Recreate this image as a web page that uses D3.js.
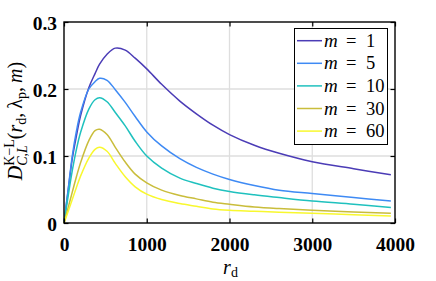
<!DOCTYPE html>
<html>
<head>
<meta charset="utf-8">
<script src="https://cdn.jsdelivr.net/npm/d3@7"></script>
<style>
  body { margin: 0; background: #fff; }
  svg { display: block; }
</style>
</head>
<body>
<svg id="chart" width="436" height="281"></svg>
<script>
// r_d sample positions, one array per m
const rd  = [0, 50, 100, 150, 200, 300, 375, 430, 520, 620, 740, 860, 1000, 1180, 1400, 1600, 1800, 2000, 2300, 2600, 3000, 3500, 3950];

const m1  = [0, 0.048, 0.096, 0.130, 0.160, 0.202, 0.223, 0.237, 0.252, 0.261, 0.258, 0.246, 0.230, 0.207, 0.182, 0.163, 0.146, 0.132, 0.116, 0.104, 0.0915, 0.081, 0.072];
const m5  = [0, 0.050, 0.100, 0.137, 0.165, 0.200, 0.211, 0.216, 0.213, 0.199, 0.180, 0.159, 0.136, 0.115, 0.096, 0.083, 0.073, 0.065, 0.056, 0.049, 0.044, 0.038, 0.033];
const m10 = [0, 0.040, 0.078, 0.110, 0.135, 0.170, 0.184, 0.187, 0.181, 0.165, 0.145, 0.122, 0.100, 0.082, 0.067, 0.059, 0.052, 0.047, 0.042, 0.038, 0.033, 0.028, 0.023];
const m30 = [0, 0.023, 0.046, 0.069, 0.090, 0.123, 0.138, 0.140, 0.132, 0.113, 0.091, 0.073, 0.060, 0.049, 0.041, 0.036, 0.031, 0.028, 0.024, 0.0215, 0.019, 0.0165, 0.0145];
const m60 = [0, 0.017, 0.035, 0.053, 0.070, 0.097, 0.110, 0.113, 0.107, 0.089, 0.069, 0.054, 0.043, 0.035, 0.029, 0.025, 0.021, 0.019, 0.0175, 0.016, 0.0145, 0.0123, 0.0105];

const seriesNames = ["1", "5", "10", "30", "60"];
const seriesValues = [m1, m5, m10, m30, m60];
const colors = ["#4b3cb6", "#3e8af4", "#1fc1be", "#c9bd3b", "#f8f82e"];

const xTicks = [0, 1000, 2000, 3000, 4000];
const yTicks = [0, 0.1, 0.2, 0.3];

const svg = d3.select("#chart");
const pLeft = 64, pRight = 395, pTop = 22, pBottom = 223;
const serif = "'Liberation Serif', 'Times New Roman', Times, 'DejaVu Serif', serif";

const x = d3.scaleLinear().domain([0, 4000]).range([pLeft, pRight]);
const y = d3.scaleLinear().domain([0, 0.3]).range([pBottom, pTop]);

// grid
svg.append("g").selectAll("line").data([1000, 2000, 3000]).join("line")
  .attr("x1", d => x(d)).attr("x2", d => x(d))
  .attr("y1", pTop).attr("y2", pBottom)
  .attr("stroke", "#dedede").attr("stroke-width", 1.3);
svg.append("g").selectAll("line").data([0.1, 0.2]).join("line")
  .attr("x1", pLeft).attr("x2", pRight)
  .attr("y1", d => y(d)).attr("y2", d => y(d))
  .attr("stroke", "#dedede").attr("stroke-width", 1.3);

// curves
const line = d3.line()
  .x(d => x(d[0]))
  .y(d => y(d[1]))
  .curve(d3.curveCatmullRom.alpha(0.5));

seriesValues.forEach((vals, i) => {
  svg.append("path")
    .datum(rd.map((r, j) => [r, vals[j]]))
    .attr("d", line)
    .attr("fill", "none")
    .attr("stroke", colors[i])
    .attr("stroke-width", 1.5);
});

// axes (ticks inward, box on)
const xAxis = svg.append("g").attr("transform", `translate(0,${pBottom})`)
  .call(d3.axisBottom(x).tickValues(xTicks).tickSize(-4.5).tickPadding(14).tickFormat(d3.format("d")));
const xTop = svg.append("g").attr("transform", `translate(0,${pTop})`)
  .call(d3.axisTop(x).tickValues(xTicks).tickSize(-4.5).tickFormat(""));
const yAxis = svg.append("g").attr("transform", `translate(${pLeft},0)`)
  .call(d3.axisLeft(y).tickValues(yTicks).tickSize(-4.5).tickPadding(7).tickFormat(d => d === 0 ? "0" : d3.format(".1f")(d)));
const yRight = svg.append("g").attr("transform", `translate(${pRight},0)`)
  .call(d3.axisRight(y).tickValues(yTicks).tickSize(-4.5).tickFormat(""));

[xAxis, xTop, yAxis, yRight].forEach(g => {
  g.attr("font-family", serif);
  g.select(".domain").remove();
  g.selectAll(".tick line").attr("stroke", "#000").attr("stroke-width", 1.2);
  g.selectAll("text")
    .attr("fill", "#000")
    .style("font-family", serif)
    .attr("font-weight", "bold")
    .attr("font-size", 19.5);
});
xAxis.selectAll("text").attr("dy", "0.71em");
yAxis.selectAll("text").attr("dy", "0.36em");

svg.append("rect")
  .attr("x", pLeft).attr("y", pTop)
  .attr("width", pRight - pLeft).attr("height", pBottom - pTop)
  .attr("fill", "none").attr("stroke", "#000").attr("stroke-width", 1.4);

// rich text helper: lays pieces one after another, measuring widths
function richText(g, pieces, size) {
  let cx = 0, lastW = 0;
  pieces.forEach(p => {
    const t = g.append("text")
      .attr("x", p.back ? cx - lastW : cx)
      .attr("y", p.dy || 0)
      .style("font-family", serif)
      .style("white-space", "pre")
      .attr("font-style", p.it ? "italic" : "normal")
      .attr("font-size", p.size || size)
      .attr("fill", "#000")
      .text(p.t);
    const w = t.node().getComputedTextLength();
    if (p.back) cx = cx - lastW + Math.max(w, lastW);
    else cx += w;
    lastW = w;
  });
  return cx;
}

// x label
const xl = svg.append("g");
const xw = richText(xl, [
  { t: "r", it: true },
  { t: "d", size: 14, dy: 3 }
], 20);
xl.attr("transform", `translate(${x(2000) - xw / 2 + 1},274)`);

// y label
const yl = svg.append("g");
const yw = richText(yl, [
  { t: "D", it: true },
  { t: "K\u2212L", size: 14, dy: -8 },
  { t: "C,L", size: 14, it: true, dy: 5, back: true },
  { t: "(", dy: 0 },
  { t: "r", it: true },
  { t: "d", size: 14, dy: 4 },
  { t: ",\u2009", dy: 0 },
  { t: "\u03bb" },
  { t: "p", size: 14, dy: 4 },
  { t: ",\u2009", dy: 0 },
  { t: "m", it: true },
  { t: ")" }
], 20);
yl.attr("transform", `translate(22,${121 + yw / 2}) rotate(-90)`);

// legend
const lg = svg.append("g");
lg.append("rect")
  .attr("x", 294.5).attr("y", 28.5).attr("width", 93).attr("height", 116)
  .attr("fill", "#fff").attr("stroke", "#000").attr("stroke-width", 1);
seriesNames.forEach((name, i) => {
  const cy = 40.7 + i * 22.6;
  lg.append("line")
    .attr("x1", 297).attr("x2", 322)
    .attr("y1", cy).attr("y2", cy)
    .attr("stroke", colors[i]).attr("stroke-width", 1.5);
  const t = lg.append("text")
    .attr("y", cy + 6)
    .style("font-family", serif)
    .attr("font-size", 18.5)
    .attr("fill", "#000");
  t.append("tspan").attr("x", 324).attr("font-style", "italic").attr("font-size", 19).text("m");
  t.append("tspan").attr("x", 346).text("=");
  t.append("tspan").attr("x", 366).text(name);
});
</script>
</body>
</html>
